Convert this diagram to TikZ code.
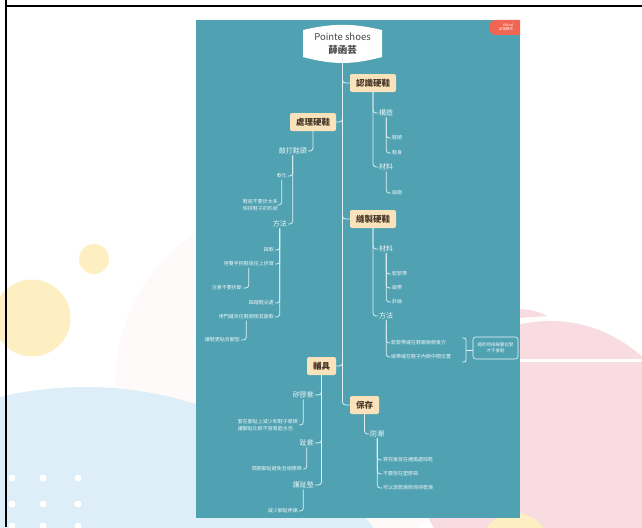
\documentclass[tikz,border=0pt]{standalone}
\usepackage{fontspec}
\setmainfont{Noto Sans CJK TC}
\usepackage{xcolor}
\usepackage{tikz}
\usetikzlibrary{positioning}

\definecolor{tealbg}{RGB}{80,161,177}
\definecolor{boxc}{RGB}{250,226,186}
\definecolor{boxtext}{RGB}{70,55,40}
\definecolor{labelc}{RGB}{236,246,248}
\definecolor{linec}{RGB}{226,241,244}
\definecolor{tabred}{RGB}{240,102,82}
\definecolor{yellowbg}{RGB}{254,239,194}
\definecolor{bluebg}{RGB}{221,238,248}
\definecolor{pinkbg}{RGB}{249,219,226}
\definecolor{faintpink}{RGB}{254,250,250}
\definecolor{rootgray}{RGB}{70,70,70}

\begin{document}
\begin{tikzpicture}[x=1pt, y=-1pt,
    conn/.style={draw=linec, line width=0.75pt, rounded corners=3pt},
    mainbox/.style={fill=boxc, rounded corners=2pt, text=boxtext, minimum height=18pt,
      inner xsep=6pt, font=\fontsize{8.5}{10}\selectfont\bfseries},
    rootbox/.style={align=center, minimum width=79pt, minimum height=27pt, text=rootgray,
      font=\fontsize{9.5}{13}\selectfont},
    sub/.style={text=labelc, inner sep=1pt, font=\fontsize{7}{8}\selectfont},
    leaf/.style={text=labelc, inner sep=1pt, font=\fontsize{5}{7}\selectfont},
    note/.style={draw=labelc, line width=0.6pt, rounded corners=2.5pt, align=center,
      minimum width=45pt, minimum height=22pt, inner sep=1pt, text=labelc,
      font=\fontsize{4.5}{6}\selectfont}]
  \useasboundingbox (0,0) rectangle (642,527);
  % background
  \fill[white] (0,0) rectangle (642,527);
  \fill[faintpink] (300,385) circle (185);
  \fill[bluebg] (85,753) circle (366);
  \fill[yellowbg] (32,318) circle (38.5);
  \fill[yellowbg] (94,259) circle (15);
  \fill[pinkbg] (550,457) circle (136);
  \fill[pinkbg] (519,309) .. controls (530,309) and (540,312) .. (547,316) -- (519,318) -- cycle;
  \draw[white, line width=3pt] (520,360.5) -- (642,360.5);
  \fill[yellowbg] (515,548) circle (35);
  \foreach \dx in {12,43,78}
    \foreach \dy in {478,504,526}
      \fill[white] (\dx,\dy) circle (3.5);
  % board
  \fill[tealbg] (196,20) rectangle (520,518);
  \begin{scope}
    \clip (196,20) rectangle (520,518);
    \fill[tabred, rounded corners=7pt] (489,20) rectangle (535,35);
  \end{scope}
  \node[text=white, align=right, inner sep=0pt, font=\fontsize{3.5}{4.5}\selectfont] (tab) at (506,27.5) {XMind\\試用模式};
  \draw[black, line width=2pt] (6,0) -- (6,527);
  \draw[black, line width=2pt] (5,6) -- (642,6);

  % root
  \fill[white] (303,57) -- (303,30) to[bend left=13] (382,30) -- (382,57) to[bend left=15] (303,57) -- cycle;
  \node[rootbox] (root) at (342.5,43.5) {Pointe shoes\\{\bfseries 薛函芸}};

  % main branches
  \node[mainbox] (ka) at (373,83) {認識硬鞋};
  \node[mainbox] (kb) at (313,122) {處理硬鞋};
  \node[mainbox] (kc) at (373,219) {縫製硬鞋};
  \node[mainbox] (ke) at (321.5,366) {輔具};
  \node[mainbox] (kd) at (364.5,405) {保存};

  % right side
  \node[sub, anchor=west] (ka1) at (378,113) {構造};
  \node[leaf, anchor=west] (ka11) at (391,138) {鞋頭};
  \node[leaf, anchor=west] (ka12) at (391,153) {鞋身};
  \node[sub, anchor=west] (ka2) at (378,167) {材料};
  \node[leaf, anchor=west] (ka21) at (391,193) {緞面};

  \node[sub, anchor=west] (kc1) at (378,249) {材料};
  \node[leaf, anchor=west] (kc11) at (391,274) {鬆緊帶};
  \node[leaf, anchor=west] (kc12) at (391,288) {緞帶};
  \node[leaf, anchor=west] (kc13) at (391,302) {針線};
  \node[sub, anchor=west] (kc2) at (378,316) {方法};
  \node[leaf, anchor=west] (kc21) at (390,343) {鬆緊帶縫在鞋跟兩側後方};
  \node[leaf, anchor=west] (kc22) at (390,357) {緞帶縫在鞋子內側中間位置};
  \node[note] (kcn) at (495.5,348) {縫的時候線要拉緊\\才不會鬆};
  \coordinate (brt) at (462,338);
  \coordinate (brm) at (466,350);

  \node[sub, anchor=west] (kd1) at (369,434) {防潮};
  \node[leaf, anchor=west] (kd11) at (382,460) {穿完後放在通風處晾乾};
  \node[leaf, anchor=west] (kd12) at (382,474) {不要放在塑膠袋};
  \node[leaf, anchor=west] (kd13) at (382,488) {可以放乾燥劑保持乾燥};

  % left side
  \node[sub, anchor=east] (kb1) at (308,151) {敲打鞋頭};
  \node[leaf, anchor=east] (kb11) at (288,176) {軟化};
  \node[leaf, anchor=east, align=left] (kb111) at (279,205) {鞋底不要折太多\\保持鞋子的形狀};
  \node[sub, anchor=east] (kb12) at (288,224) {方法};
  \node[leaf, anchor=east] (kb121) at (275,250) {踩軟};
  \node[leaf, anchor=east] (kb122) at (275,264) {用雙手把鞋底往上折彎};
  \node[leaf, anchor=east] (kb1221) at (243,288) {注意不要折斷};
  \node[leaf, anchor=east] (kb123) at (275,303) {踩踏鞋尖處};
  \node[leaf, anchor=east] (kb124) at (275,317) {用門縫夾住鞋頭使其變軟};
  \node[leaf, anchor=east] (kb1241) at (241,340) {讓鞋更貼合腳型};

  \node[sub, anchor=east] (ke1) at (315,395) {矽膠套};
  \node[leaf, anchor=east, align=left] (ke11) at (299,425) {套在腳趾上減少和鞋子摩擦\\讓腳趾比較不容易起水泡};
  \node[sub, anchor=east] (ke2) at (315,443) {趾套};
  \node[leaf, anchor=east] (ke21) at (303,469) {隔開腳趾避免互相摩擦};
  \node[sub, anchor=east] (ke3) at (315,485) {護趾墊};
  \node[leaf, anchor=east] (ke31) at (299,511) {減少腳趾疼痛};

  % connectors
  \foreach \c in {ka,kc,kd}
    \draw[conn] (root.south) |- (\c.west);
  \foreach \c in {kb,ke}
    \draw[conn] (root.south) |- (\c.east);
  \foreach \p/\c in {ka/ka1, ka/ka2, ka1/ka11, ka1/ka12, ka2/ka21,
      kc/kc1, kc/kc2, kc1/kc11, kc1/kc12, kc1/kc13, kc2/kc21, kc2/kc22,
      kd/kd1, kd1/kd11, kd1/kd12, kd1/kd13}
    \draw[conn] (\p.south) |- (\c.west);
  \foreach \p/\c in {kb/kb1, kb1/kb11, kb11/kb111, kb1/kb12, kb12/kb121, kb12/kb122,
      kb122/kb1221, kb12/kb123, kb12/kb124, kb124/kb1241,
      ke/ke1, ke1/ke11, ke/ke2, ke2/ke21, ke/ke3, ke3/ke31}
    \draw[conn] (\p.south) |- (\c.east);
  \draw[conn, rounded corners=2pt] (brt) -- ++(4,0) -- ++(0,24) -- ++(-4,0);
  \draw[conn] (brm) -- (brm -| kcn.west);
\end{tikzpicture}
\end{document}
